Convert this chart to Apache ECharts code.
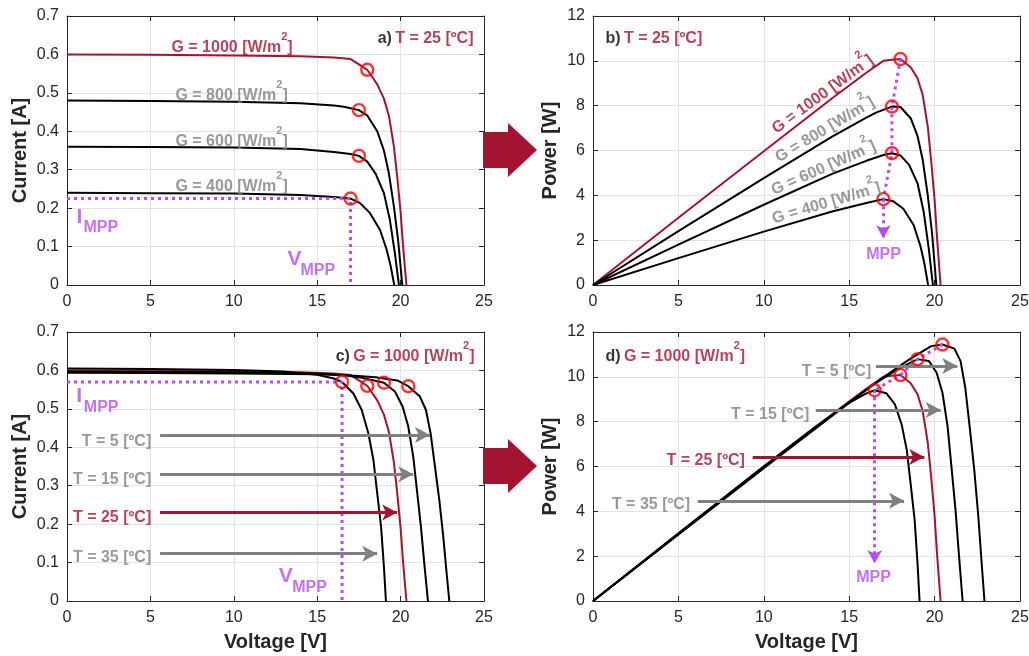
<!DOCTYPE html>
<html>
<head>
<meta charset="utf-8">
<title>PV module curves</title>
<script src="https://cdn.jsdelivr.net/npm/echarts@6/dist/echarts.min.js"></script>
<style>
  html, body { margin: 0; padding: 0; background: #ffffff; }
  #main { width: 1029px; height: 656px; }
</style>
</head>
<body>
<div id="main"></div>
<script>
// ---- Tick values ----
const voltTicks = [0, 5, 10, 15, 20, 25];
const currentTicks = [0, 0.1, 0.2, 0.3, 0.4, 0.5, 0.6, 0.7];
const powerTicks = [0, 2, 4, 6, 8, 10, 12];

// ---- Irradiance sweep, T = 25 ºC (voltage [V], current [A], power [W]) ----
const vG1000 = [0, 5, 10, 14, 16, 17, 17.5, 18, 18.6, 19, 19.3, 19.6, 19.8, 20, 20.15, 20.35];
const iG1000 = [0.600, 0.599, 0.597, 0.595, 0.592, 0.588, 0.574, 0.560, 0.522, 0.485, 0.440, 0.360, 0.280, 0.190, 0.100, 0];
const pG1000 = [0, 3.00, 5.97, 8.33, 9.47, 10.00, 10.05, 10.08, 9.71, 9.22, 8.49, 7.06, 5.54, 3.80, 2.02, 0];

const vG800 = [0, 5, 10, 14, 16, 16.6, 17.5, 18, 18.6, 19, 19.3, 19.6, 19.85, 20.1];
const iG800 = [0.480, 0.479, 0.477, 0.473, 0.467, 0.464, 0.455, 0.441, 0.400, 0.350, 0.290, 0.204, 0.117, 0];
const pG800 = [0, 2.40, 4.77, 6.62, 7.47, 7.70, 7.96, 7.94, 7.44, 6.65, 5.60, 4.00, 2.32, 0];

const vG600 = [0, 5, 10, 14, 16, 17, 17.5, 18, 18.5, 19, 19.36, 19.66, 19.9];
const iG600 = [0.360, 0.359, 0.358, 0.354, 0.346, 0.341, 0.336, 0.321, 0.290, 0.239, 0.169, 0.082, 0];
const pG600 = [0, 1.80, 3.58, 4.96, 5.54, 5.80, 5.88, 5.78, 5.37, 4.54, 3.27, 1.61, 0];

const vG400 = [0, 5, 10, 14, 16, 17, 17.57, 18.17, 18.77, 19.17, 19.4, 19.62];
const iG400 = [0.240, 0.239, 0.238, 0.234, 0.229, 0.225, 0.213, 0.187, 0.143, 0.091, 0.050, 0];
const pG400 = [0, 1.20, 2.38, 3.28, 3.66, 3.83, 3.74, 3.40, 2.68, 1.74, 0.97, 0];

// maximum power points, G = 1000 / 800 / 600 / 400
const mppGV = [18.0, 17.5, 17.5, 17.0];
const mppGI = [0.560, 0.455, 0.336, 0.225];
const mppGP = [10.08, 7.96, 5.88, 3.83];

// ---- Temperature sweep, G = 1000 W/m² (T = 25 ºC is the G = 1000 curve above) ----
const vT5 = [0, 5, 10, 15, 17, 18.5, 19.8, 20.46, 21.16, 21.52, 21.8, 22.06, 22.32, 22.56, 22.76, 22.92];
const iT5 = [0.594, 0.593, 0.592, 0.590, 0.587, 0.582, 0.574, 0.559, 0.532, 0.497, 0.436, 0.350, 0.263, 0.167, 0.072, 0];
const pT5 = [0, 2.97, 5.92, 8.85, 9.98, 10.77, 11.37, 11.44, 11.26, 10.70, 9.50, 7.72, 5.87, 3.77, 1.64, 0];

const vT15 = [0, 5, 10, 15, 16.5, 17.8, 19.0, 19.66, 20.12, 20.46, 20.76, 21.0, 21.22, 21.44, 21.64];
const iT15 = [0.597, 0.596, 0.595, 0.592, 0.588, 0.580, 0.568, 0.545, 0.506, 0.454, 0.375, 0.280, 0.193, 0.089, 0];
const pT15 = [0, 2.98, 5.95, 8.88, 9.70, 10.32, 10.79, 10.71, 10.18, 9.29, 7.79, 5.88, 4.10, 1.91, 0];

const vT35 = [0, 5, 10, 13, 15, 16, 16.49, 17.17, 17.67, 18.07, 18.37, 18.6, 18.83, 19.0, 19.12];
const iT35 = [0.605, 0.604, 0.601, 0.597, 0.589, 0.579, 0.570, 0.540, 0.497, 0.436, 0.367, 0.280, 0.193, 0.089, 0];
const pT35 = [0, 3.02, 6.01, 7.76, 8.84, 9.26, 9.40, 9.27, 8.78, 7.88, 6.74, 5.21, 3.63, 1.69, 0];

// maximum power points, T = 5 / 15 / 25 / 35 ºC
const mppTV = [20.46, 19.0, 18.0, 16.49];
const mppTI = [0.559, 0.568, 0.560, 0.570];
const mppTP = [11.44, 10.79, 10.08, 9.40];

// ---- Styling ----
const FONT = "'Liberation Sans', Arial, Helvetica, sans-serif";
const INK = '#262626';
const DARKRED = '#a2142f';
const GRAY = '#808080';
const PURPLE = '#b44cff';
const MARKRED = '#ff0000';

const pts = (xs, ys) => xs.map((x, k) => [x, ys[k]]);
const last = a => a[a.length - 1];

const grids = [
  { left: 67, top: 16, width: 417, height: 269 },
  { left: 593, top: 16, width: 427, height: 269 },
  { left: 67, top: 332, width: 417, height: 269 },
  { left: 593, top: 332, width: 427, height: 269 }
].map(g => Object.assign({ show: false, containLabel: false, outerBoundsMode: 'none' }, g));

function axisCommon(ticks, top) {
  return {
    type: 'value',
    min: ticks[0], max: last(ticks), interval: ticks[1] - ticks[0],
    axisLine: { show: true, onZero: false, lineStyle: { color: INK, width: 1 } },
    axisTick: { show: true, inside: true, length: 5, lineStyle: { color: INK, width: 1 } },
    axisLabel: { show: !top, color: INK, fontSize: 16, fontFamily: FONT },
    splitLine: { show: !top, lineStyle: { color: '#e3e3e3', width: 1 } },
    nameLocation: 'middle',
    nameTextStyle: { color: INK, fontSize: 20, fontWeight: 'bold', fontFamily: FONT }
  };
}

const xAxes = [];
const yAxes = [];
[false, true].forEach(mirror => {
  for (let g = 0; g < 4; g++) {
    const xa = axisCommon(voltTicks, mirror);
    xa.gridIndex = g;
    xa.position = mirror ? 'top' : 'bottom';
    xa.axisLabel.margin = 9;
    if (!mirror && g >= 2) { xa.name = 'Voltage [V]'; xa.nameGap = 31; }
    xAxes.push(xa);

    const isPower = g % 2 === 1;
    const ya = axisCommon(isPower ? powerTicks : currentTicks, mirror);
    ya.gridIndex = g;
    ya.position = mirror ? 'right' : 'left';
    ya.axisLabel.margin = 8;
    if (!mirror) {
      ya.name = isPower ? 'Power [W]' : 'Current [A]';
      ya.nameGap = isPower ? 33 : 37;
    }
    yAxes.push(ya);
  }
});

function curve(g, data, color) {
  return {
    type: 'line', xAxisIndex: g, yAxisIndex: g, data,
    showSymbol: false, smooth: false, silent: true, z: 2,
    lineStyle: { color, width: 2, join: 'round' }
  };
}

function mppMarks(g, data) {
  return {
    type: 'scatter', xAxisIndex: g, yAxisIndex: g, data, silent: true, z: 8,
    symbol: 'circle', symbolSize: 12,
    itemStyle: { color: 'rgba(0,0,0,0)', borderColor: MARKRED, borderWidth: 2.4 }
  };
}

const dotted = { color: PURPLE, width: 3, type: [3, 4] };

function guide(g, data, arrowTo) {
  const s = {
    type: 'line', xAxisIndex: g, yAxisIndex: g, data, silent: true, z: 4,
    showSymbol: false, lineStyle: dotted
  };
  if (arrowTo) {
    s.markLine = {
      silent: true, symbol: ['none', 'arrow'], symbolSize: [11, 13],
      label: { show: false }, lineStyle: dotted, z: 4,
      data: [[{ coord: last(data) }, { coord: arrowTo }]]
    };
  }
  return s;
}

function arrows(g, list) {
  return {
    type: 'line', xAxisIndex: g, yAxisIndex: g, data: [], silent: true, z: 6,
    markLine: {
      silent: true, symbol: ['none', 'arrow'], symbolSize: [12, 15],
      label: { show: false }, z: 6,
      data: list.map(a => [
        { coord: [a[0], a[2]], lineStyle: { color: a[3], width: 3, type: 'solid' } },
        { coord: [a[1], a[2]] }
      ])
    }
  };
}

function richSet(color) {
  return {
    n: { fontFamily: FONT, fontSize: 16, fontWeight: 'bold', color, lineHeight: 24, verticalAlign: 'bottom' },
    s: { fontFamily: FONT, fontSize: 11, fontWeight: 'bold', color, lineHeight: 10, verticalAlign: 'top' },
    k: { fontFamily: FONT, fontSize: 16, fontWeight: 'bold', color: '#000000', lineHeight: 24, verticalAlign: 'bottom' },
    r: { fontFamily: FONT, fontSize: 16, fontWeight: 'bold', color: DARKRED, lineHeight: 24, verticalAlign: 'bottom' },
    rs: { fontFamily: FONT, fontSize: 11, fontWeight: 'bold', color: DARKRED, lineHeight: 10, verticalAlign: 'top' },
    big: { fontFamily: FONT, fontSize: 21, fontWeight: 'bold', color, lineHeight: 24 },
    sub: { fontFamily: FONT, fontSize: 16, fontWeight: 'bold', color, lineHeight: 20 }
  };
}

function note(g, x, y, text, color, align, rotate) {
  return {
    type: 'scatter', xAxisIndex: g, yAxisIndex: g, silent: true, z: 9,
    data: [[x, y]], symbolSize: 1, itemStyle: { color: 'rgba(0,0,0,0)' },
    label: {
      show: true, position: [0, 0], formatter: text,
      align: align || 'left', verticalAlign: 'middle', rotate: rotate || 0,
      rich: richSet(color)
    }
  };
}

const gLabel = v => '{n|G = ' + v + ' [W/m}{s|2}{n|]}';

const series = [
  // a) current vs voltage, irradiance sweep
  curve(0, pts(vG1000, iG1000), DARKRED),
  curve(0, pts(vG800, iG800), '#000000'),
  curve(0, pts(vG600, iG600), '#000000'),
  curve(0, pts(vG400, iG400), '#000000'),
  guide(0, [[0, mppGI[3]], [mppGV[3], mppGI[3]], [mppGV[3], 0]]),
  mppMarks(0, pts(mppGV, mppGI)),
  note(0, 6.29, 0.626, gLabel(1000), DARKRED),
  note(0, 6.53, 0.503, gLabel(800), GRAY),
  note(0, 6.53, 0.382, gLabel(600), GRAY),
  note(0, 6.53, 0.266, gLabel(400), GRAY),
  note(0, 24.4, 0.65, '{k|a)} {r|T = 25 [ºC]}', DARKRED, 'right'),
  note(0, 0.6, 0.176, '{big|I}', PURPLE),
  note(0, 1.02, 0.147, '{sub|MPP}', PURPLE),
  note(0, 13.25, 0.065, '{big|V}', PURPLE),
  note(0, 14.03, 0.036, '{sub|MPP}', PURPLE),

  // b) power vs voltage, irradiance sweep
  curve(1, pts(vG1000, pG1000), DARKRED),
  curve(1, pts(vG800, pG800), '#000000'),
  curve(1, pts(vG600, pG600), '#000000'),
  curve(1, pts(vG400, pG400), '#000000'),
  guide(1, pts(mppGV, mppGP), [mppGV[3], 2.08]),
  mppMarks(1, pts(mppGV, mppGP)),
  note(1, 0.76, 11.15, '{k|b)} {r|T = 25 [ºC]}', DARKRED),
  note(1, 13.34, 8.62, gLabel(1000), DARKRED, 'center', 36.3),
  note(1, 13.49, 7.05, gLabel(800), GRAY, 'center', 30.9),
  note(1, 13.44, 5.35, gLabel(600), GRAY, 'center', 23.8),
  note(1, 13.63, 3.79, gLabel(400), GRAY, 'center', 16.3),
  note(1, 17.04, 1.34, '{sub|MPP}', PURPLE, 'center'),

  // c) current vs voltage, temperature sweep
  curve(2, pts(vG1000, iG1000), DARKRED),
  curve(2, pts(vT5, iT5), '#000000'),
  curve(2, pts(vT15, iT15), '#000000'),
  curve(2, pts(vT35, iT35), '#000000'),
  guide(2, [[0, mppTI[3]], [mppTV[3], mppTI[3]], [mppTV[3], 0]]),
  mppMarks(2, pts(mppTV, mppTI)),
  arrows(2, [
    [5.58, 21.76, 0.432, GRAY],
    [5.58, 20.76, 0.330, GRAY],
    [5.58, 19.80, 0.230, DARKRED],
    [5.58, 18.60, 0.123, GRAY]
  ]),
  note(2, 24.46, 0.646, '{k|c)} {r|G = 1000 [W/m}{rs|2}{r|]}', DARKRED, 'right'),
  note(2, 5.08, 0.425, '{n|T = 5 [ºC]}', GRAY, 'right'),
  note(2, 5.08, 0.326, '{n|T = 15 [ºC]}', GRAY, 'right'),
  note(2, 5.08, 0.226, '{n|T = 25 [ºC]}', DARKRED, 'right'),
  note(2, 5.08, 0.122, '{n|T = 35 [ºC]}', GRAY, 'right'),
  note(2, 0.58, 0.532, '{big|I}', PURPLE),
  note(2, 1.04, 0.503, '{sub|MPP}', PURPLE),
  note(2, 12.73, 0.0625, '{big|V}', PURPLE),
  note(2, 13.53, 0.034, '{sub|MPP}', PURPLE),

  // d) power vs voltage, temperature sweep
  curve(3, pts(vG1000, pG1000), DARKRED),
  curve(3, pts(vT5, pT5), '#000000'),
  curve(3, pts(vT15, pT15), '#000000'),
  curve(3, pts(vT35, pT35), '#000000'),
  guide(3, pts(mppTV, mppTP), [mppTV[3], 1.68]),
  mppMarks(3, pts(mppTV, mppTP)),
  arrows(3, [
    [16.57, 21.33, 10.48, GRAY],
    [13.04, 20.36, 8.52, GRAY],
    [9.35, 19.40, 6.42, DARKRED],
    [6.13, 18.21, 4.47, GRAY]
  ]),
  note(3, 0.76, 11.07, '{k|d)} {r|G = 1000 [W/m}{rs|2}{r|]}', DARKRED),
  note(3, 16.32, 10.41, '{n|T = 5 [ºC]}', GRAY, 'right'),
  note(3, 12.70, 8.48, '{n|T = 15 [ºC]}', GRAY, 'right'),
  note(3, 8.92, 6.40, '{n|T = 25 [ºC]}', DARKRED, 'right'),
  note(3, 5.72, 4.45, '{n|T = 35 [ºC]}', GRAY, 'right'),
  note(3, 16.45, 1.01, '{sub|MPP}', PURPLE, 'center')
];

// block arrows linking the current panels to the power panels
const blockArrow = cy => ({
  type: 'polygon', z: 100, silent: true,
  shape: { points: [[483, cy - 18], [508, cy - 18], [508, cy - 27], [537, cy], [508, cy + 27], [508, cy + 18], [483, cy + 18]] },
  style: { fill: DARKRED }
});

const chart = echarts.init(document.getElementById('main'), null, { renderer: 'canvas' });
chart.setOption({
  animation: false,
  backgroundColor: '#ffffff',
  textStyle: { fontFamily: FONT },
  grid: grids,
  xAxis: xAxes,
  yAxis: yAxes,
  series,
  graphic: [blockArrow(150), blockArrow(466)]
});
</script>
</body>
</html>
